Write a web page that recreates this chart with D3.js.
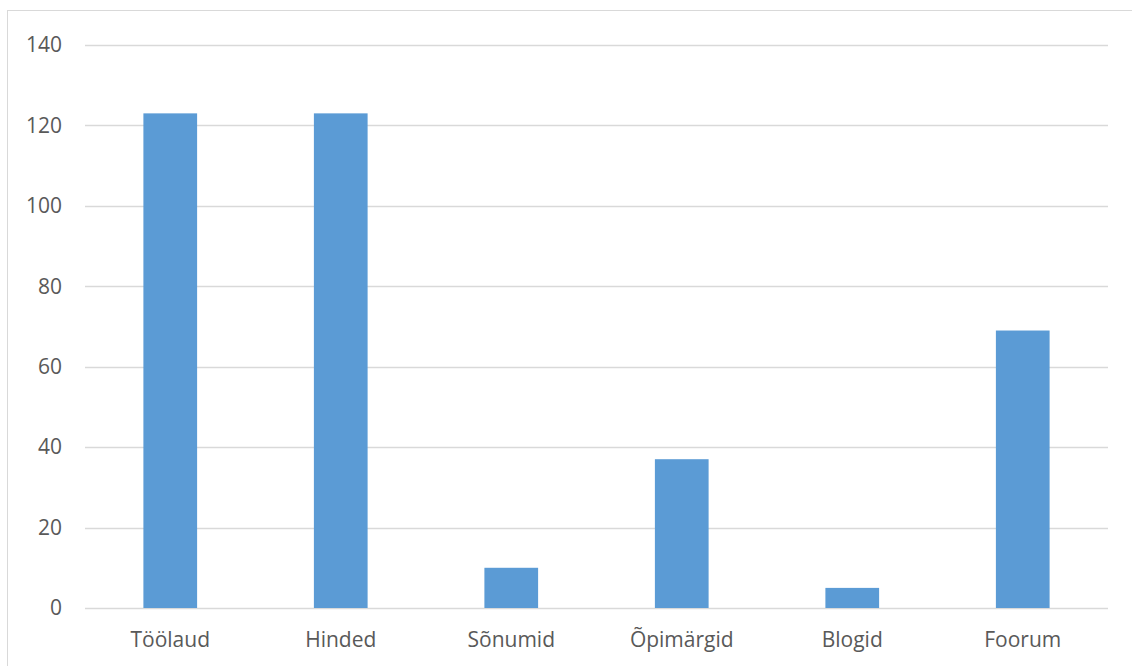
<!DOCTYPE html>
<html>
<head>
<meta charset="utf-8">
<script src="https://cdn.jsdelivr.net/npm/d3@7"></script>
<style>
  html, body { margin: 0; padding: 0; background: #ffffff; }
  svg { display: block; }
</style>
</head>
<body>
<script>
// Moodle module usage counts
const categories = ["Töölaud", "Hinded", "Sõnumid", "Õpimärgid", "Blogid", "Foorum"];
const values = [123, 123, 10, 37, 5, 69];
const yTicks = [0, 20, 40, 60, 80, 100, 120, 140];

const W = 1132, H = 666;
const margin = { left: 85, right: 24, top: 45, bottom: 58 };

const svg = d3.select("body").append("svg")
  .attr("width", W).attr("height", H);

// chart-area frame
svg.append("rect")
  .attr("x", 7.5).attr("y", 10.5)
  .attr("width", W + 10).attr("height", H + 10)
  .attr("fill", "none").attr("stroke", "#d9d9d9").attr("stroke-width", 1);

const x = d3.scaleBand()
  .domain(categories)
  .range([margin.left, W - margin.right])
  .paddingInner(0.685).paddingOuter(0.3425);

const y = d3.scaleLinear()
  .domain([0, 140])
  .range([H - margin.bottom, margin.top]);

// horizontal gridlines
svg.append("g")
  .selectAll("line")
  .data(yTicks)
  .join("line")
  .attr("x1", margin.left).attr("x2", W - margin.right)
  .attr("y1", d => Math.round(y(d)) + 0.5)
  .attr("y2", d => Math.round(y(d)) + 0.5)
  .attr("stroke", "#d9d9d9").attr("stroke-width", 1.3);

// bars
svg.append("g")
  .selectAll("rect")
  .data(categories.map((c, i) => ({ c, v: values[i] })))
  .join("rect")
  .attr("x", d => x(d.c))
  .attr("width", x.bandwidth())
  .attr("y", d => y(d.v))
  .attr("height", d => y(0) - y(d.v))
  .attr("fill", "#5b9bd5");

const labelFont = "'Open Sans', 'Noto Sans', sans-serif";

// y-axis tick labels
const yAxis = d3.axisLeft(y).tickValues(yTicks).tickSize(0).tickPadding(0);
const gy = svg.append("g")
  .attr("transform", `translate(${margin.left - 23},0)`)
  .call(yAxis);
gy.select(".domain").remove();
gy.selectAll("text")
  .attr("fill", "#595959")
  .style("font-family", labelFont)
  .style("font-size", "21px");

// x-axis category labels
const xAxis = d3.axisBottom(x).tickSize(0).tickPadding(0);
const gx = svg.append("g")
  .attr("transform", `translate(0,${y(0) + 24})`)
  .call(xAxis);
gx.select(".domain").remove();
gx.selectAll("text")
  .attr("fill", "#595959")
  .style("font-family", labelFont)
  .style("font-size", "21px");
</script>
</body>
</html>
